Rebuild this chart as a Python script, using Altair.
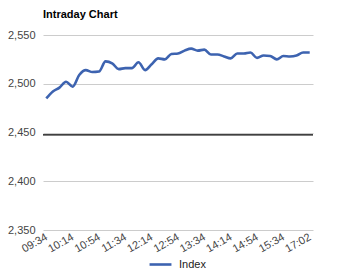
import altair as alt
import pandas as pd

times = ["09:34", "09:44", "09:54", "10:04", "10:14", "10:24", "10:34", "10:44",
         "10:54", "11:04", "11:14", "11:24", "11:34", "11:44", "11:54", "12:04",
         "12:14", "12:24", "12:34", "12:44", "12:54", "13:04", "13:14", "13:24",
         "13:34", "13:44", "13:54", "14:04", "14:14", "14:24", "14:34", "14:44",
         "14:54", "15:04", "15:14", "15:24", "15:34", "15:44", "15:54", "16:00",
         "17:02"]
index_values = [2485, 2492, 2496, 2502, 2497, 2509, 2514, 2512,
                2512.5, 2523, 2521, 2515, 2516, 2516, 2522, 2514,
                2520, 2526, 2525, 2530.5, 2531, 2534, 2536, 2534,
                2535, 2530, 2530, 2528, 2526, 2531, 2531, 2532,
                2526.5, 2529, 2528.5, 2525, 2528.5, 2528, 2529, 2532,
                2532]
tick_labels = ["09:34", "10:14", "10:54", "11:34", "12:14", "12:54",
               "13:34", "14:14", "14:54", "15:34", "17:02"]
y_ticks = [2350, 2400, 2450, 2500, 2550]
baseline_value = [2447.6]

df = pd.DataFrame({"time": times, "value": index_values, "series": "Index"})
base_df = pd.DataFrame({"v": baseline_value})

FONT = "Arial, Liberation Sans, sans-serif"

line = alt.Chart(df).mark_line(strokeWidth=2.6, interpolate="monotone").encode(
    x=alt.X("time:O", sort=times, title=None,
            axis=alt.Axis(values=tick_labels, labelAngle=-30, labelAlign="right",
                          labelBaseline="middle", labelPadding=6, ticks=False,
                          domain=False, grid=False, labelFont=FONT, labelFontSize=11,
                          labelColor="#444444")),
    y=alt.Y("value:Q", title=None,
            scale=alt.Scale(domain=[2350, 2550], nice=False, zero=False),
            axis=alt.Axis(values=y_ticks, format=",.0f", ticks=False, domain=False,
                          gridColor="#cccccc", labelFont=FONT, labelFontSize=11,
                          labelColor="#444444", labelPadding=8)),
    color=alt.Color("series:N", scale=alt.Scale(range=["#3d63b0"]),
                    legend=alt.Legend(title=None, orient="none", legendX=105,
                                      legendY=217, symbolType="stroke",
                                      symbolStrokeWidth=2.6, symbolSize=480,
                                      labelFont=FONT, labelFontSize=11,
                                      labelColor="#222222", labelOffset=6,
                                      padding=0)),
)

rule = alt.Chart(base_df).mark_rule(color="#000000", strokeWidth=1.2).encode(
    y=alt.Y("v:Q")
)

chart = alt.layer(rule, line).properties(
    width=270, height=195,
    title=alt.TitleParams("Intraday Chart", anchor="start", frame="group",
                          font=FONT, fontSize=11, fontWeight="bold",
                          color="#000000", offset=14, baseline="middle", dy=11),
    autosize=alt.AutoSizeParams(type="none"),
    padding={"left": 43, "top": 35, "right": 39, "bottom": 39},
).configure_view(stroke=None)

chart.save("out.html", embed_options={"renderer": "svg", "actions": False})
